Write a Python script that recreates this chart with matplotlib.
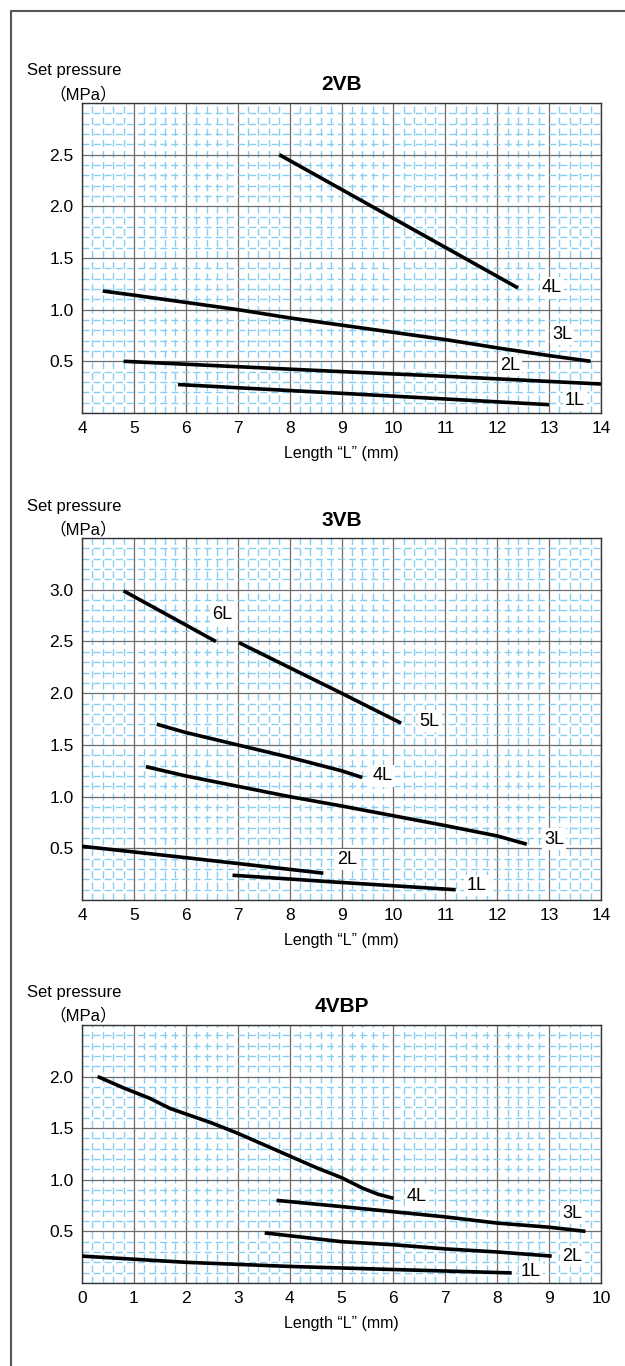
import numpy as np
import matplotlib.pyplot as plt
from matplotlib.lines import Line2D
from matplotlib.ticker import MultipleLocator

plt.rcParams['font.family'] = ['Liberation Sans', 'DejaVu Sans']

# ---- 2VB ----
vb2_4L_x = [7.8, 12.4]
vb2_4L_y = [2.5, 1.21]
vb2_3L_x = [4.4, 5.0, 6.0, 7.0, 8.0, 9.0, 10.0, 11.0, 12.0, 13.0, 13.8]
vb2_3L_y = [1.18, 1.14, 1.07, 1.0, 0.92, 0.85, 0.78, 0.71, 0.63, 0.555, 0.5]
vb2_2L_x = [4.8, 9.0, 11.0, 14.0]
vb2_2L_y = [0.5, 0.40, 0.355, 0.28]
vb2_1L_x = [5.85, 9.0, 13.0]
vb2_1L_y = [0.275, 0.19, 0.08]

# ---- 3VB ----
vb3_6L_x = [4.8, 6.58]
vb3_6L_y = [2.99, 2.5]
vb3_5L_x = [7.02, 9.0, 10.15]
vb3_5L_y = [2.49, 2.0, 1.71]
vb3_4L_x = [5.44, 6.0, 7.0, 8.0, 9.0, 9.4]
vb3_4L_y = [1.70, 1.62, 1.50, 1.38, 1.25, 1.185]
vb3_3L_x = [5.23, 6.0, 7.0, 8.0, 9.0, 10.0, 11.0, 12.0, 12.57]
vb3_3L_y = [1.29, 1.20, 1.10, 1.0, 0.91, 0.815, 0.72, 0.62, 0.54]
vb3_2L_x = [4.0, 6.0, 8.65]
vb3_2L_y = [0.52, 0.41, 0.26]
vb3_1L_x = [6.9, 9.0, 11.2]
vb3_1L_y = [0.24, 0.17, 0.10]

# ---- 4VBP ----
vbp_4L_x = [0.3, 0.8, 1.3, 1.7, 2.5, 3.0, 3.5, 4.0, 4.5, 5.0, 5.4, 5.7, 6.0]
vbp_4L_y = [2.0, 1.89, 1.79, 1.69, 1.55, 1.45, 1.34, 1.23, 1.12, 1.02, 0.92, 0.86, 0.82]
vbp_3L_x = [3.75, 5.0, 6.0, 7.0, 8.0, 9.0, 9.7]
vbp_3L_y = [0.80, 0.74, 0.69, 0.64, 0.58, 0.54, 0.50]
vbp_2L_x = [3.52, 5.0, 6.0, 7.0, 8.0, 9.05]
vbp_2L_y = [0.485, 0.40, 0.37, 0.33, 0.30, 0.26]
vbp_1L_x = [0.0, 2.0, 4.0, 6.0, 8.28]
vbp_1L_y = [0.26, 0.20, 0.16, 0.13, 0.097]

charts = [
    dict(title='2VB', xlim=(4, 14), ylim=(0, 3.0), xticks=range(4, 15),
         yticks=[0.5, 1.0, 1.5, 2.0, 2.5], rect=[0.1312, 0.6977, 0.8304, 0.2269],
         lines=[(vb2_4L_x, vb2_4L_y, '4L', 13.05, 1.21),
                (vb2_3L_x, vb2_3L_y, '3L', 13.25, 0.76),
                (vb2_2L_x, vb2_2L_y, '2L', 12.25, 0.46),
                (vb2_1L_x, vb2_1L_y, '1L', 13.5, 0.12)]),
    dict(title='3VB', xlim=(4, 14), ylim=(0, 3.5), xticks=range(4, 15),
         yticks=[0.5, 1.0, 1.5, 2.0, 2.5, 3.0], rect=[0.1312, 0.3411, 0.8304, 0.2650],
         lines=[(vb3_6L_x, vb3_6L_y, '6L', 6.7, 2.76),
                (vb3_5L_x, vb3_5L_y, '5L', 10.7, 1.73),
                (vb3_4L_x, vb3_4L_y, '4L', 9.8, 1.2),
                (vb3_3L_x, vb3_3L_y, '3L', 13.1, 0.59),
                (vb3_2L_x, vb3_2L_y, '2L', 9.1, 0.39),
                (vb3_1L_x, vb3_1L_y, '1L', 11.6, 0.14)]),
    dict(title='4VBP', xlim=(0, 10), ylim=(0, 2.5), xticks=range(0, 11),
         yticks=[0.5, 1.0, 1.5, 2.0], rect=[0.1312, 0.0608, 0.8304, 0.1889],
         lines=[(vbp_4L_x, vbp_4L_y, '4L', 6.45, 0.84),
                (vbp_3L_x, vbp_3L_y, '3L', 9.45, 0.67),
                (vbp_2L_x, vbp_2L_y, '2L', 9.45, 0.255),
                (vbp_1L_x, vbp_1L_y, '1L', 8.65, 0.11)]),
]

W, H = 625, 1366
fig = plt.figure(figsize=(W / 100, H / 100), dpi=100)

# outer frame (left and top only)
fig.add_artist(Line2D([11 / W, 11 / W, 1.0], [0.0, 1 - 11 / H, 1 - 11 / H],
                      transform=fig.transFigure, color='#555555', lw=1.5))

for c in charts:
    ax = fig.add_axes(c['rect'])
    ax.set_xlim(*c['xlim'])
    ax.set_ylim(*c['ylim'])
    ax.set_xticks(list(c['xticks']))
    ax.set_yticks(c['yticks'])
    ax.set_yticklabels(['%.1f' % v for v in c['yticks']])
    ax.xaxis.set_minor_locator(MultipleLocator(0.2))
    ax.yaxis.set_minor_locator(MultipleLocator(0.1))
    ax.grid(which='minor', color='#86cdf1', lw=1.0, ls=(0, (5, 3)))
    ax.grid(which='major', color='#6e6e6e', lw=0.9)
    ax.set_axisbelow(True)
    ax.tick_params(which='both', length=0)
    ax.tick_params(axis='x', labelsize=12.5, pad=6)
    ax.tick_params(axis='y', labelsize=12.5, pad=6)
    for s in ax.spines.values():
        s.set_color('#333333')
        s.set_linewidth(1.0)

    for xs, ys, name, lx, ly in c['lines']:
        ax.plot(xs, ys, color='black', lw=2.6, solid_capstyle='butt', zorder=3)
        ax.text(lx, ly, name, fontsize=13, ha='center', va='center', zorder=4,
                bbox=dict(facecolor='white', edgecolor='none', pad=1.5))

    ax.set_title(c['title'], fontsize=15, fontweight='bold', pad=9)
    ax.set_xlabel('Length \u201cL\u201d (mm)', fontsize=11.5, labelpad=7)

    top_px = (1 - c['rect'][1] - c['rect'][3]) * H
    fig.text(27 / W, 1 - (top_px - 32) / H, 'Set pressure', fontsize=12,
             ha='left', va='center')
    fig.text(117 / W, 1 - (top_px - 9) / H, '\uff08MPa\uff09', fontsize=12,
             ha='right', va='center',
             family=['Liberation Sans', 'Noto Sans CJK JP', 'DejaVu Sans'])

fig.savefig('out.png', dpi=100)
